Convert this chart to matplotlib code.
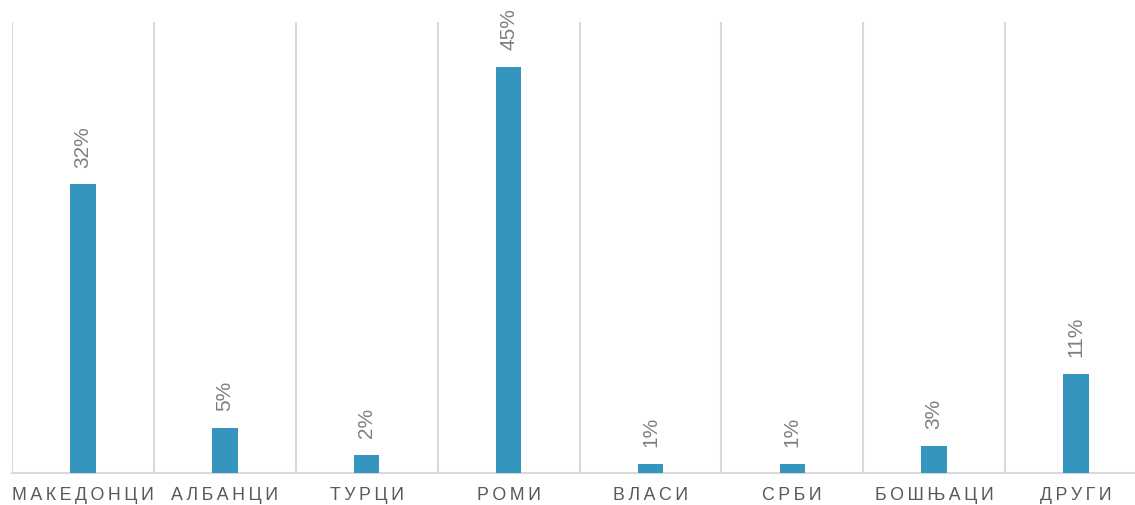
import numpy as np
import matplotlib.pyplot as plt

categories = ['МАКЕДОНЦИ', 'АЛБАНЦИ', 'ТУРЦИ', 'РОМИ', 'ВЛАСИ', 'СРБИ', 'БОШЊАЦИ', 'ДРУГИ']
values = [32, 5, 2, 45, 1, 1, 3, 11]

plt.rcParams['font.family'] = ['Liberation Sans', 'DejaVu Sans']

fig = plt.figure(figsize=(11.35, 5.05), dpi=100)
ax = fig.add_axes([12 / 1135, 32 / 505, 1135 / 1135, 451 / 505])

x = np.arange(len(categories))
ax.bar(x, values, width=0.18, color='#3595be', zorder=3)

for xi, v in zip(x, values):
    ax.annotate(f'{v}%', (xi, v), xytext=(0, 12), textcoords='offset points',
                rotation=90, ha='center', va='bottom', fontsize=15, color='#7f7f7f')

# category separators
for b in np.arange(len(categories) + 1) - 0.5:
    ax.axvline(b, color='#d9d9d9', lw=1.5, zorder=1)

ax.set_xlim(-0.5, len(categories) - 0.5)
ax.set_ylim(0, 50)
ax.set_xticks(x)
ax.set_xticklabels(['\u2009'.join(c) for c in categories], fontsize=12.8, color='#595959')
ax.tick_params(axis='x', length=0, pad=10)
ax.set_yticks([])
for s in ['top', 'right', 'left']:
    ax.spines[s].set_visible(False)
ax.spines['bottom'].set_color('#d9d9d9')
ax.spines['bottom'].set_linewidth(1.5)

fig.savefig('out.png', dpi=100)
